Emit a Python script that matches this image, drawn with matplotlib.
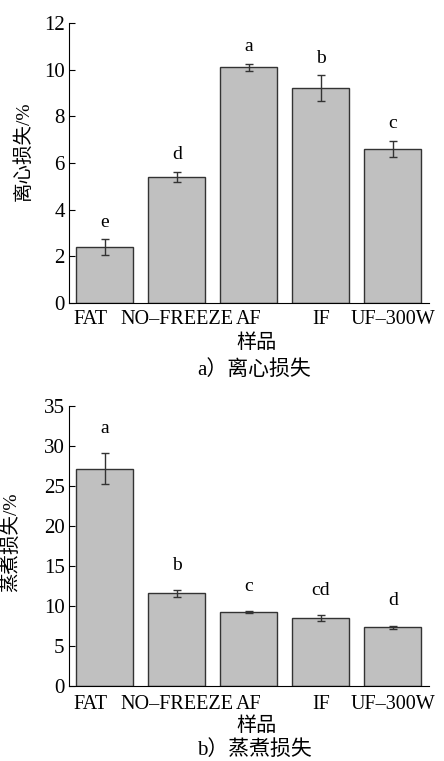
import matplotlib
matplotlib.use("Agg")
import matplotlib.pyplot as plt
from matplotlib.transforms import ScaledTranslation

plt.rcParams['font.family'] = ['Liberation Serif', 'Noto Sans CJK SC']

samples = ["FAT", "NO–FREEZE", "AF", "IF", "UF–300W"]

centrifuge_loss = [2.4, 5.4, 10.1, 9.2, 6.6]
centrifuge_err = [0.33, 0.22, 0.15, 0.55, 0.35]
centrifuge_letters = ["e", "d", "a", "b", "c"]

cooking_loss = [27.2, 11.55, 9.2, 8.45, 7.3]
cooking_err = [1.9, 0.4, 0.1, 0.35, 0.2]
cooking_letters = ["a", "b", "c", "cd", "d"]

BAR = "#c0c0c0"
EDGE = "#333333"


def draw(fig, ax, values, errs, letters, ymax, step, ylabel, caption,
         gap, tickpad, ylab_x, ylab_y, xlab_y, cap_y):
    x = list(range(len(samples)))
    ax.bar(x, values, width=0.79, color=BAR, edgecolor=EDGE, linewidth=1.0)
    ax.errorbar(x, values, yerr=errs, fmt="none", ecolor=EDGE,
                elinewidth=1.0, capsize=3, capthick=1.0)
    for xi, v, e, t in zip(x, values, errs, letters):
        ax.annotate(t, (xi, v + e), xytext=(0, gap), textcoords="offset points",
                    ha="center", va="bottom", fontsize=14)
    ax.set_xlim(-0.5, 4.5)
    ax.set_ylim(0, ymax)
    ax.set_yticks(range(0, ymax + 1, step))
    ax.set_xticks(x)
    ax.set_xticklabels(samples)
    ax.tick_params(axis="y", direction="in", length=4, labelsize=15, pad=3)
    ax.tick_params(axis="x", length=0, labelsize=14.5, pad=tickpad)
    # FAT label sits a little left of its bar in the original
    lab = ax.get_xticklabels()[0]
    lab.set_transform(lab.get_transform() +
                      ScaledTranslation(-14 / 100, 0, fig.dpi_scale_trans))
    ax.spines["top"].set_visible(False)
    ax.spines["right"].set_visible(False)
    ax.set_ylabel(ylabel, fontsize=14)
    ax.yaxis.set_label_coords(ylab_x, ylab_y)
    fig.text(0.577, xlab_y, "样品", ha="center", va="center", fontsize=14.5)
    fig.text(0.572, cap_y, caption, ha="center", va="center", fontsize=15)


fig = plt.figure(figsize=(4.44, 7.61), dpi=100)
ax1 = fig.add_axes([0.155, 0.602, 0.811, 0.368])
ax2 = fig.add_axes([0.155, 0.099, 0.811, 0.367])

draw(fig, ax1, centrifuge_loss, centrifuge_err, centrifuge_letters, 12, 2,
     "离心损失/%", "a）离心损失", 6, 5, -0.1, 0.543,
     1 - 343 / 761, 1 - 370 / 761)
draw(fig, ax2, cooking_loss, cooking_err, cooking_letters, 35, 5,
     "蒸煮损失/%", "b）蒸煮损失", 12, 6.5, -0.136, 0.513,
     1 - 726.5 / 761, 1 - 750 / 761)

fig.savefig("out.png", dpi=100)
